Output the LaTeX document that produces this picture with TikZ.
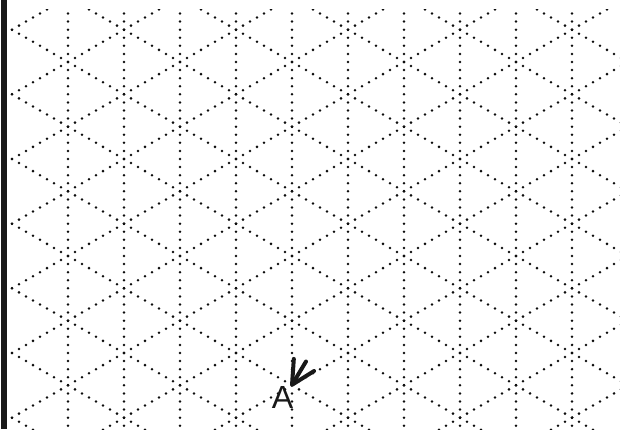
\documentclass[tikz,border=0pt]{standalone}
\usepackage{fontspec}
\setsansfont{Liberation Sans}
\usetikzlibrary{arrows.meta}
\begin{document}
\begin{tikzpicture}[x=1pt,y=-1pt,
  gridline/.style={line width=2.8pt, line cap=round, dash pattern=on 0pt off 8.0829pt, draw=black!95},
  pointer/.style={line width=4pt, line cap=round, line join=round, draw=black!90, -{Straight Barb[angle=54:26pt, round]}},
  labeltext/.style={font=\sffamily\fontsize{32}{32}\selectfont, inner sep=0pt, text=black!90}]
\useasboundingbox (0,0) rectangle (620,429);
\begin{scope}
  \clip (10,9) rectangle (620,429);
  % vertical dotted lines
  \foreach \k in {0,...,9} {
    \pgfmathsetmacro{\xx}{68+56*\k}
    \pgfmathsetmacro{\yy}{ifthenelse(mod(\k,2)==0,-2.6632,-34.9948)}
    \draw[gridline] (\xx,\yy) -- (\xx,\yy+517.3056);
  }
  % down-right diagonals
  \foreach \n in {-6,...,6} {
    \pgfmathsetmacro{\ya}{29.6684+64.6632*\n}
    \draw[gridline] (12,\ya) -- (628,\ya+355.6476);
  }
  % up-right diagonals
  \foreach \n in {-2,...,11} {
    \pgfmathsetmacro{\yb}{94.3316+64.6632*\n}
    \draw[gridline] (12,\yb) -- (628,\yb-355.6476);
  }
\end{scope}
% left border
\fill[black!90] (0.8,0) rectangle (6.6,429);
% label and pointer
\node[labeltext] (labelA) at (282.5,397.5) {A};
\coordinate (arrowtail) at (306,361.5);
\coordinate (arrowtip) at (291,386.5);
\draw[pointer] (arrowtail) -- (arrowtip);
\end{tikzpicture}
\end{document}
